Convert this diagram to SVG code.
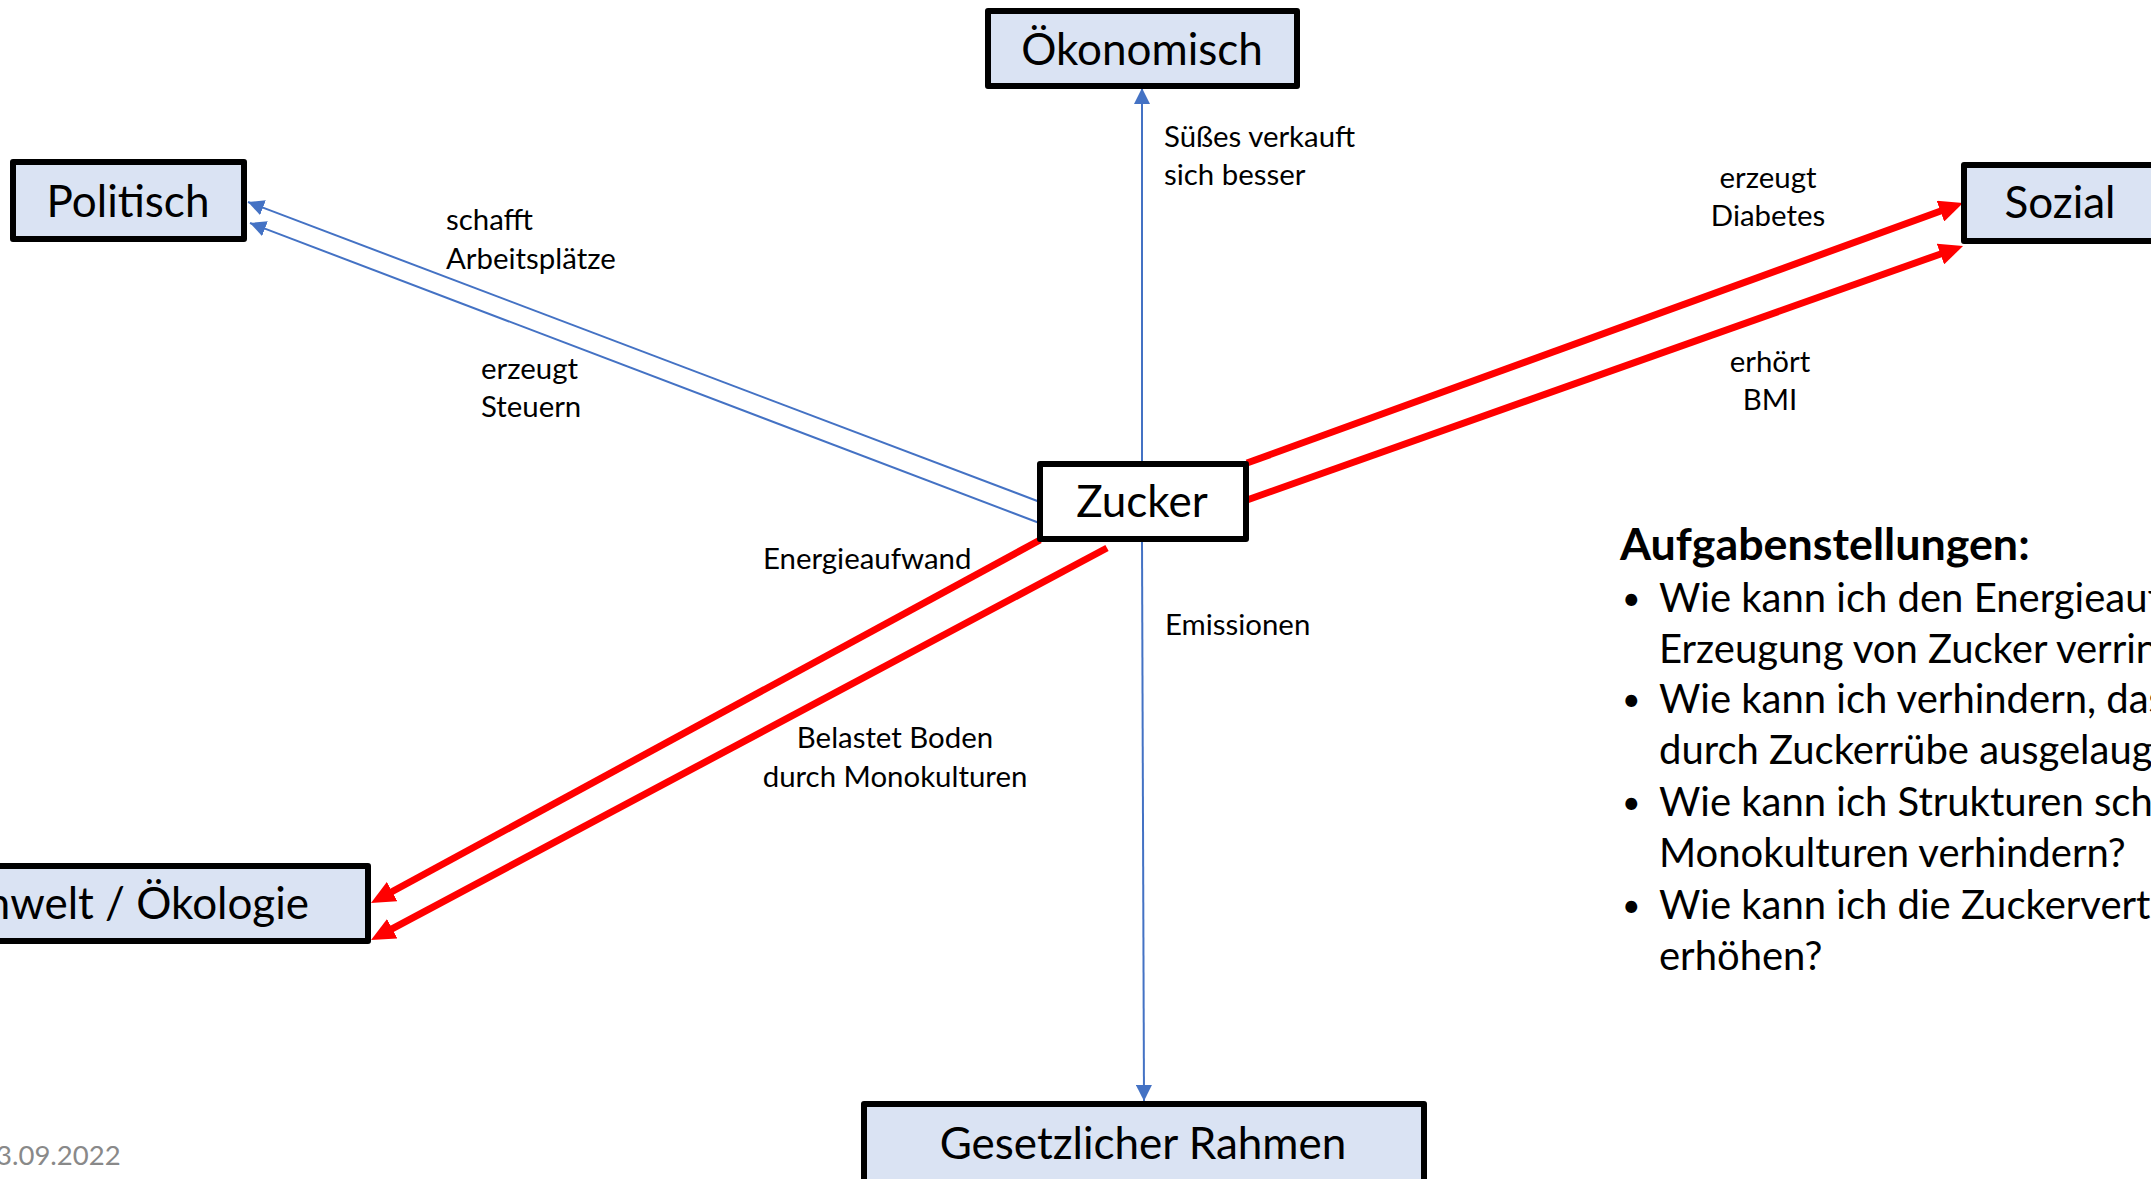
<svg xmlns="http://www.w3.org/2000/svg" width="2151" height="1179" viewBox="0 0 2151 1179">
  <style>
    .box { fill: #dae3f3; stroke: #000; stroke-width: 6; stroke-linejoin: round; }
    .core { fill: #fff; stroke: #000; stroke-width: 6; stroke-linejoin: round; }
    .node-text { font-family: Lato, "Open Sans", sans-serif; font-size: 44px; fill: #000; text-anchor: middle; }
    .label { font-family: Lato, "Open Sans", sans-serif; font-size: 29.4px; fill: #000; }
    .mid { text-anchor: middle; }
    .blue { stroke: #4472c4; stroke-width: 2; fill: none; marker-end: url(#head-blue); }
    .red { stroke: #ff0000; stroke-width: 7; fill: none; marker-end: url(#head-red); }
    .task { font-family: Lato, "Open Sans", sans-serif; font-size: 40px; fill: #000; }
    .dot { font-family: Lato, "Open Sans", sans-serif; font-size: 32px; fill: #000; }
    .task-title { font-family: Lato, "Open Sans", sans-serif; font-size: 44.8px; font-weight: bold; fill: #000; }
    .date { font-family: Lato, "Open Sans", sans-serif; font-size: 27.5px; fill: #898989; }
  </style>
  <defs>
    <marker id="head-blue" markerUnits="userSpaceOnUse" markerWidth="16" markerHeight="16" refX="16" refY="8" orient="auto">
      <path d="M0,0 L16,8 L0,16 z" fill="#4472c4"/>
    </marker>
    <marker id="head-red" markerUnits="userSpaceOnUse" markerWidth="24" markerHeight="22" refX="4" refY="11" orient="auto">
      <path d="M0,0 L24,11 L0,22 z" fill="#ff0000"/>
    </marker>
  </defs>

  <rect width="2151" height="1179" fill="#fff"/>

  <!-- connectors -->
  <g id="connectors">
    <path class="blue" d="M1142,461 L1142,88"/>
    <path class="blue" d="M1142,542 L1144,1101"/>
    <path class="blue" d="M1040,502 L248,202"/>
    <path class="blue" d="M1042,524 L250,223"/>
    <path class="red" d="M1247,463 L1944.2,209.8"/>
    <path class="red" d="M1247,500 L1944.2,252.7"/>
    <path class="red" d="M1040,540 L388.6,893.5"/>
    <path class="red" d="M1107,548 L388.7,930.6"/>
  </g>

  <!-- connector labels -->
  <g id="labels">
    <text class="label" x="1164" y="147">Süßes verkauft</text>
    <text class="label" x="1164" y="185">sich besser</text>
    <text class="label" x="446" y="230">schafft</text>
    <text class="label" x="446" y="269">Arbeitsplätze</text>
    <text class="label" x="481" y="379">erzeugt</text>
    <text class="label" x="481" y="417">Steuern</text>
    <text class="label mid" x="1768" y="188">erzeugt</text>
    <text class="label mid" x="1768" y="226">Diabetes</text>
    <text class="label mid" x="1770" y="372">erhört</text>
    <text class="label mid" x="1770" y="410">BMI</text>
    <text class="label" x="763" y="569">Energieaufwand</text>
    <text class="label mid" x="895" y="748">Belastet Boden</text>
    <text class="label mid" x="895" y="787">durch Monokulturen</text>
    <text class="label" x="1165" y="635">Emissionen</text>
  </g>

  <!-- nodes -->
  <g id="node-oekonomisch">
    <rect class="box" x="988" y="11" width="309" height="75"/>
    <text class="node-text" x="1142" y="65">Ökonomisch</text>
  </g>
  <g id="node-politisch">
    <rect class="box" x="13" y="162" width="231" height="77"/>
    <text class="node-text" x="128" y="217">Politisch</text>
  </g>
  <g id="node-sozial">
    <rect class="box" x="1964" y="165" width="200" height="76"/>
    <text class="node-text" x="2060" y="218">Sozial</text>
  </g>
  <g id="node-zucker">
    <rect class="core" x="1040" y="464" width="206" height="75"/>
    <text class="node-text" x="1142" y="517">Zucker</text>
  </g>
  <g id="node-umwelt">
    <rect class="box" x="-100" y="866" width="468" height="75"/>
    <text class="node-text" x="309" y="919" style="text-anchor:end">Umwelt / Ökologie</text>
  </g>
  <g id="node-gesetz">
    <rect class="box" x="864" y="1104" width="560" height="120"/>
    <text class="node-text" x="1143" y="1159">Gesetzlicher Rahmen</text>
  </g>

  <!-- task list -->
  <g id="tasks">
    <text class="task-title" x="1620" y="560">Aufgabenstellungen:</text>
    <text class="dot" x="1622" y="610">•</text>
    <text class="task" x="1659" y="612">Wie kann ich den Energieauf</text>
    <text class="task" x="1659" y="663">Erzeugung von Zucker verring</text>
    <text class="dot" x="1622" y="711">•</text>
    <text class="task" x="1659" y="713">Wie kann ich verhindern, dass</text>
    <text class="task" x="1659" y="764">durch Zuckerrübe ausgelaugt</text>
    <text class="dot" x="1622" y="814">•</text>
    <text class="task" x="1659" y="816">Wie kann ich Strukturen scha</text>
    <text class="task" x="1659" y="867">Monokulturen verhindern?</text>
    <text class="dot" x="1622" y="917">•</text>
    <text class="task" x="1659" y="919">Wie kann ich die Zuckerverträ</text>
    <text class="task" x="1659" y="970">erhöhen?</text>
  </g>

  <text class="date" x="-4" y="1165">3.09.2022</text>
</svg>
